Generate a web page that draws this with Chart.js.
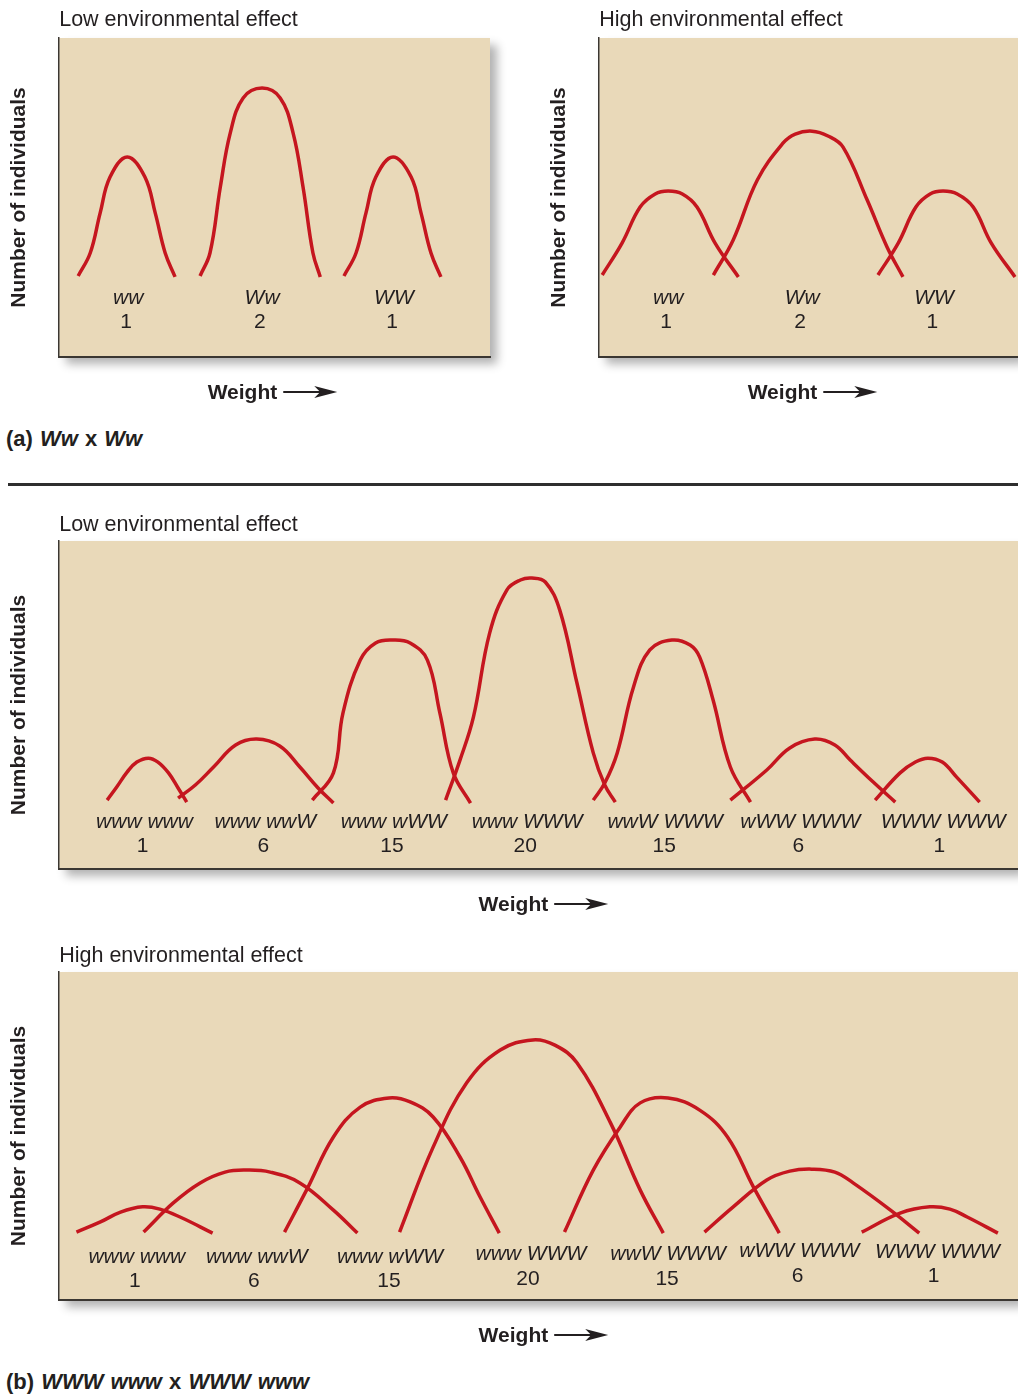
<!DOCTYPE html>
<html>
<head>
<meta charset="utf-8">
<script src="https://cdn.jsdelivr.net/npm/chart.js@4.4.1/dist/chart.umd.min.js"></script>
<style>
  body { margin: 0; background: #fff; width: 1018px; height: 1395px; position: relative; overflow: hidden;
         font-family: "Liberation Sans", Arial, sans-serif; color: #231f20; }
  .panel { position: absolute; }
  .cap { position: absolute; left: 6px; font-weight: bold; font-size: 22px; line-height: 22px; white-space: nowrap; word-spacing: 1px; }
  .rule { position: absolute; left: 8px; top: 483px; width: 1010px; height: 3px; background: #2e2e2e; }
</style>
</head>
<body>
<div class="panel" style="left:0;top:0"><canvas id="aLow" width="530" height="420"></canvas></div>
<div class="panel" style="left:540px;top:0"><canvas id="aHigh" width="478" height="420"></canvas></div>
<div class="cap" style="top:428px">(a) <i>Ww</i> x <i>Ww</i></div>
<div class="rule"></div>
<div class="panel" style="left:0;top:500px"><canvas id="bLow" width="1018" height="420"></canvas></div>
<div class="panel" style="left:0;top:930px"><canvas id="bHigh" width="1018" height="420"></canvas></div>
<div class="cap" style="top:1371px">(b) <i>WWW www</i> x <i>WWW www</i></div>

<script>
// x = weight (arbitrary units), y = number of individuals (arbitrary units)

// (a) Ww x Ww
const aGenotypes = ['ww', 'Ww', 'WW'];
const aCounts = ['1', '2', '1'];
const aGenoX = [16.0, 47.1, 77.7];
const aCountX = [15.5, 46.6, 77.3];

const aLowX = [
  [4.4, 7.2, 9.5, 11.8, 15.8, 19.9, 22.3, 24.6, 26.9],
  [32.7, 35.0, 37.4, 39.7, 42.7, 47.1, 51.3, 54.3, 56.6, 58.9, 60.6],
  [66.1, 68.9, 71.2, 73.5, 77.5, 81.7, 84.0, 86.3, 88.6]
];
const aLowY = [
  [25.4, 32.6, 45.1, 56.4, 62.7, 56.4, 45.1, 32.6, 25.1],
  [25.4, 32.6, 53.3, 70.2, 81.2, 84.3, 81.2, 70.2, 53.3, 32.6, 25.1],
  [25.4, 32.6, 45.1, 56.4, 62.7, 56.4, 45.1, 32.6, 25.1]
];

const aHighX = [
  [0.7, 5.3, 9.5, 13.0, 16.0, 19.3, 22.7, 26.9, 32.3],
  [26.5, 31.1, 36.7, 42.7, 45.5, 49.4, 53.1, 56.6, 62.2, 66.8, 70.5],
  [64.7, 69.4, 73.5, 76.8, 79.8, 83.1, 86.8, 91.0, 96.5]
];
const aHighY = [
  [25.7, 35.7, 47.0, 51.1, 52.0, 51.1, 47.0, 35.7, 25.1],
  [25.7, 36.7, 55.5, 67.1, 69.9, 70.8, 69.3, 65.8, 49.2, 34.5, 25.1],
  [25.7, 35.7, 47.0, 51.1, 52.0, 51.1, 47.0, 35.7, 25.1]
];

// (b) WWW www x WWW www
const bGenotypes = ['www www', 'www wwW', 'www wWW', 'www WWW', 'wwW WWW', 'wWW WWW', 'WWW WWW'];
const bCounts = ['1', '6', '15', '20', '15', '6', '1'];
const bLowGenoX = [8.9, 21.5, 34.9, 48.8, 63.2, 77.3, 92.2];
const bLowCountX = [8.7, 21.3, 34.7, 48.6, 63.1, 77.1, 91.8];
const bHighGenoX = [8.1, 20.6, 34.5, 49.2, 63.5, 77.2, 91.6];
const bHighCountX = [7.9, 20.3, 34.4, 48.9, 63.4, 77.0, 91.2];
const bHighGenoY = [11.2, 11.2, 11.2, 12.2, 12.2, 13.2, 12.7];
const bHighCountY = [4.1, 4.1, 4.1, 4.6, 4.6, 5.6, 5.6];

const bLowX = [
  [5.0, 6.0, 7.1, 8.1, 9.3, 10.3, 11.4, 12.4, 13.3],
  [12.4, 14.2, 16.1, 18.4, 20.6, 23.0, 25.1, 27.0, 28.6],
  [26.4, 28.6, 29.6, 31.4, 33.0, 34.8, 36.6, 38.4, 39.7, 41.1, 42.9],
  [40.3, 41.8, 43.2, 44.9, 46.7, 48.1, 49.3, 50.7, 52.2, 54.0, 55.7, 56.9, 58.0],
  [55.7, 56.9, 58.2, 59.9, 61.6, 63.9, 65.8, 66.8, 68.2, 70.0, 72.1],
  [70.0, 73.8, 76.2, 78.8, 80.9, 82.5, 84.9, 87.2],
  [85.1, 87.7, 89.3, 90.6, 92.1, 93.6, 96.0]
];
const bLowY = [
  [21.0, 25.0, 29.6, 32.6, 33.8, 32.6, 29.3, 24.7, 20.4],
  [21.6, 25.6, 31.1, 37.8, 39.6, 37.5, 31.1, 24.7, 20.1],
  [21.0, 29.3, 47.6, 63.7, 68.9, 69.8, 68.9, 63.7, 47.6, 29.3, 20.1],
  [21.0, 33.2, 46.3, 72.0, 85.1, 88.1, 88.7, 87.5, 79.0, 56.7, 35.4, 25.6, 20.4],
  [21.0, 26.2, 35.4, 55.5, 66.8, 69.8, 68.3, 64.6, 51.5, 31.1, 20.4],
  [21.0, 30.2, 36.9, 39.6, 37.8, 33.2, 26.5, 20.4],
  [21.0, 29.3, 32.6, 33.8, 32.6, 28.0, 20.4]
];

const bHighX = [
  [1.8, 4.3, 6.4, 8.7, 10.5, 12.6, 16.0],
  [8.8, 11.9, 14.7, 17.3, 19.6, 22.0, 25.1, 28.6, 31.1],
  [23.5, 25.9, 28.6, 31.4, 34.4, 36.6, 39.0, 41.8, 43.9, 45.9],
  [35.5, 39.0, 42.5, 46.0, 49.4, 51.7, 54.0, 57.5, 60.6, 63.0],
  [52.7, 55.7, 58.5, 60.6, 63.5, 66.8, 69.7, 72.4, 75.1],
  [67.3, 70.3, 73.8, 76.2, 78.5, 80.9, 82.8, 86.7, 89.7],
  [83.7, 87.7, 90.8, 92.9, 94.7, 97.9]
];
const bHighY = [
  [20.7, 23.8, 26.8, 28.4, 27.7, 25.3, 20.4],
  [20.7, 29.6, 35.7, 39.0, 39.6, 39.0, 35.7, 27.4, 20.4],
  [20.7, 34.1, 49.7, 58.8, 61.6, 60.4, 55.8, 43.6, 31.4, 20.4],
  [20.7, 46.6, 66.2, 76.2, 79.3, 77.7, 72.3, 54.0, 33.5, 20.4],
  [20.7, 39.6, 52.7, 60.1, 61.6, 57.9, 49.7, 34.5, 20.4],
  [20.7, 28.4, 36.6, 39.3, 39.9, 39.0, 35.7, 27.4, 20.4],
  [20.7, 26.5, 28.4, 27.7, 25.3, 20.4]
];

const FONT = '"Liberation Sans", Arial, Helvetica, sans-serif';
const INK = '#231f20';

// beige box with soft shadow, then the labels on top
const panelText = {
  id: 'panelText',
  beforeDraw(chart) {
    const { ctx, chartArea: a } = chart;
    ctx.save();
    ctx.shadowColor = 'rgba(0,0,0,0.30)';
    ctx.shadowBlur = 9;
    ctx.shadowOffsetX = 7;
    ctx.shadowOffsetY = 7;
    ctx.fillStyle = '#e9d9b9';
    ctx.fillRect(a.left, a.top, a.right - a.left, a.bottom - a.top);
    ctx.restore();
  },
  afterDraw(chart, args, opts) {
    const { ctx, chartArea: a, scales: { x, y } } = chart;
    ctx.save();
    ctx.fillStyle = INK;
    ctx.textBaseline = 'alphabetic';

    ctx.textAlign = 'left';
    ctx.font = '21.5px ' + FONT;
    ctx.fillText(opts.title, a.left, a.top - opts.titleGap);

    ctx.textAlign = 'center';
    opts.genotypes.forEach((g, i) => {
      ctx.font = 'italic 21px ' + FONT;
      ctx.fillText(g, x.getPixelForValue(opts.genoX[i]), y.getPixelForValue(opts.genoY[i]));
      ctx.font = '21px ' + FONT;
      ctx.fillText(opts.counts[i], x.getPixelForValue(opts.countX[i]), y.getPixelForValue(opts.countY[i]));
    });

    // "Weight ->"
    ctx.font = 'bold 21px ' + FONT;
    const w = ctx.measureText('Weight').width;
    const gap = 6, arrow = 54;
    const total = w + gap + arrow;
    const left = x.getPixelForValue(opts.weightX) - total / 2;
    const base = a.bottom + 42;
    ctx.textAlign = 'left';
    ctx.fillText('Weight', left, base);
    const ay = base - 7, end = left + total;
    ctx.strokeStyle = INK;
    ctx.lineWidth = 2;
    ctx.beginPath();
    ctx.moveTo(left + w + gap, ay);
    ctx.lineTo(end - 15, ay);
    ctx.stroke();
    ctx.beginPath();
    ctx.moveTo(end, ay);
    ctx.lineTo(end - 23, ay - 6);
    ctx.lineTo(end - 17, ay);
    ctx.lineTo(end - 23, ay + 6);
    ctx.closePath();
    ctx.fill();
    ctx.restore();
  }
};

function makePanel(id, xs, ys, xMax, padding, text) {
  const datasets = xs.map((col, i) => ({
    data: col.map((v, j) => ({ x: v, y: ys[i][j] })),
    borderColor: '#c5161f',
    borderWidth: 3.5,
    pointRadius: 0,
    fill: false,
    tension: 0.4
  }));
  return new Chart(document.getElementById(id), {
    type: 'line',
    data: { datasets },
    plugins: [panelText],
    options: {
      responsive: false,
      animation: false,
      events: [],
      layout: { autoPadding: false, padding },
      scales: {
        x: {
          type: 'linear', min: 0, max: xMax,
          ticks: { display: false },
          grid: { display: false, drawTicks: false },
          border: { display: true, color: '#3b3732', width: 2 }
        },
        y: {
          min: 0, max: 100,
          ticks: { display: false },
          grid: { display: false, drawTicks: false },
          border: { display: true, color: '#3b3732', width: 1.5 },
          title: {
            display: true, text: 'Number of individuals', color: INK,
            font: { family: FONT, size: 21, weight: 'bold' },
            padding: { top: 7, bottom: 27 }
          }
        }
      },
      plugins: {
        legend: { display: false },
        tooltip: { enabled: false },
        panelText: text
      }
    }
  });
}

makePanel('aLow', aLowX, aLowY, 100, { left: 0, top: 38, right: 40, bottom: 63 }, {
  title: 'Low environmental effect', titleGap: 12,
  genotypes: aGenotypes, counts: aCounts,
  genoX: aGenoX, countX: aCountX,
  genoY: [16.6, 16.6, 16.6], countY: [9.1, 9.1, 9.1],
  weightX: 49.5
});

makePanel('aHigh', aHighX, aHighY, 97.2, { left: 0, top: 38, right: 0, bottom: 63 }, {
  title: 'High environmental effect', titleGap: 12,
  genotypes: aGenotypes, counts: aCounts,
  genoX: aGenoX, countX: aCountX,
  genoY: [16.6, 16.6, 16.6], countY: [9.1, 9.1, 9.1],
  weightX: 49.5
});

makePanel('bLow', bLowX, bLowY, 100, { left: 0, top: 41, right: 0, bottom: 51 }, {
  title: 'Low environmental effect', titleGap: 10,
  genotypes: bGenotypes, counts: bCounts,
  genoX: bLowGenoX, countX: bLowCountX,
  genoY: [12.5, 12.5, 12.5, 12.5, 12.5, 12.5, 12.5], countY: [5.2, 5.2, 5.2, 5.2, 5.2, 5.2, 5.2],
  weightX: 50.5
});

makePanel('bHigh', bHighX, bHighY, 100, { left: 0, top: 42, right: 0, bottom: 50 }, {
  title: 'High environmental effect', titleGap: 10,
  genotypes: bGenotypes, counts: bCounts,
  genoX: bHighGenoX, countX: bHighCountX,
  genoY: bHighGenoY, countY: bHighCountY,
  weightX: 50.5
});
</script>
</body>
</html>
